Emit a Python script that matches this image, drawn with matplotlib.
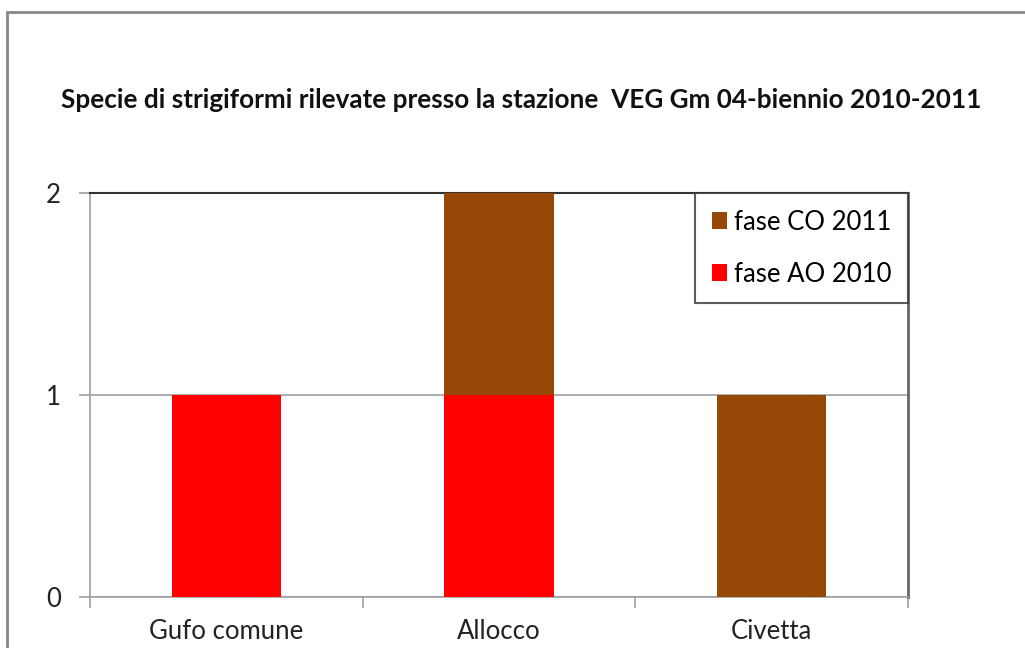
import matplotlib.pyplot as plt
from matplotlib.patches import Rectangle

specie = ["Gufo comune", "Allocco", "Civetta"]
ao_2010 = [1, 1, 0]
co_2011 = [0, 1, 1]

plt.rcParams['font.family'] = ['Lato', 'DejaVu Sans']

fig = plt.figure(figsize=(10.25, 6.48), dpi=100)
ax = fig.add_axes([90 / 1025, 1 - 597 / 648, 818 / 1025, 404 / 648])

x = range(len(specie))
ax.bar(x, ao_2010, width=0.4, color="#ff0000", label="fase AO 2010", zorder=3)
ax.bar(x, co_2011, width=0.4, bottom=ao_2010, color="#974806",
       label="fase CO 2011", zorder=3)

ax.set_xlim(-0.5, 2.5)
ax.set_ylim(0, 2)
ax.set_yticks([0, 1, 2])
ax.set_xticks(x)
ax.set_xticklabels(specie)
ax.set_xticks([-0.5, 0.5, 1.5, 2.5], minor=True)
ax.tick_params(axis="x", which="major", length=0, pad=16, labelsize=18.5, labelcolor="#222222")
ax.tick_params(axis="x", which="minor", length=8, color="#a0a0a0", width=1.2)
ax.tick_params(axis="y", length=8, color="#a0a0a0", width=1.2, pad=13,
               labelsize=18.5, labelcolor="#222222")

ax.grid(axis="y", color="#a0a0a0", linewidth=1.2, zorder=0)
for s in ["left", "bottom"]:
    ax.spines[s].set_color("#a0a0a0")
    ax.spines[s].set_linewidth(1.2)
ax.spines["top"].set_color("#333333")
ax.spines["top"].set_linewidth(1.5)
ax.spines["right"].set_color("#666666")
ax.spines["right"].set_linewidth(2)

h, l = ax.get_legend_handles_labels()
leg = ax.legend(h[::-1], l[::-1], loc="upper right", bbox_to_anchor=(1.0, 1.0),
                fontsize=18.5, frameon=True, fancybox=False, edgecolor="#333333",
                handlelength=0.6, handleheight=0.6, handletextpad=0.25,
                labelspacing=1.05, borderpad=0.65, borderaxespad=0)
leg.get_frame().set_linewidth(1.5)

fig.text(0.508, 1 - 100 / 648, "Specie di strigiformi rilevate presso la stazione  VEG Gm 04-biennio 2010-2011",
         ha="center", va="center", fontsize=18.8, fontweight="bold", color="#111111")

fig.patches.append(Rectangle((7 / 1025, -0.1), 1.2, 1 - 12 / 648 + 0.1,
                             transform=fig.transFigure, fill=False,
                             edgecolor="#888888", linewidth=2))

fig.savefig("out.png", dpi=100)
